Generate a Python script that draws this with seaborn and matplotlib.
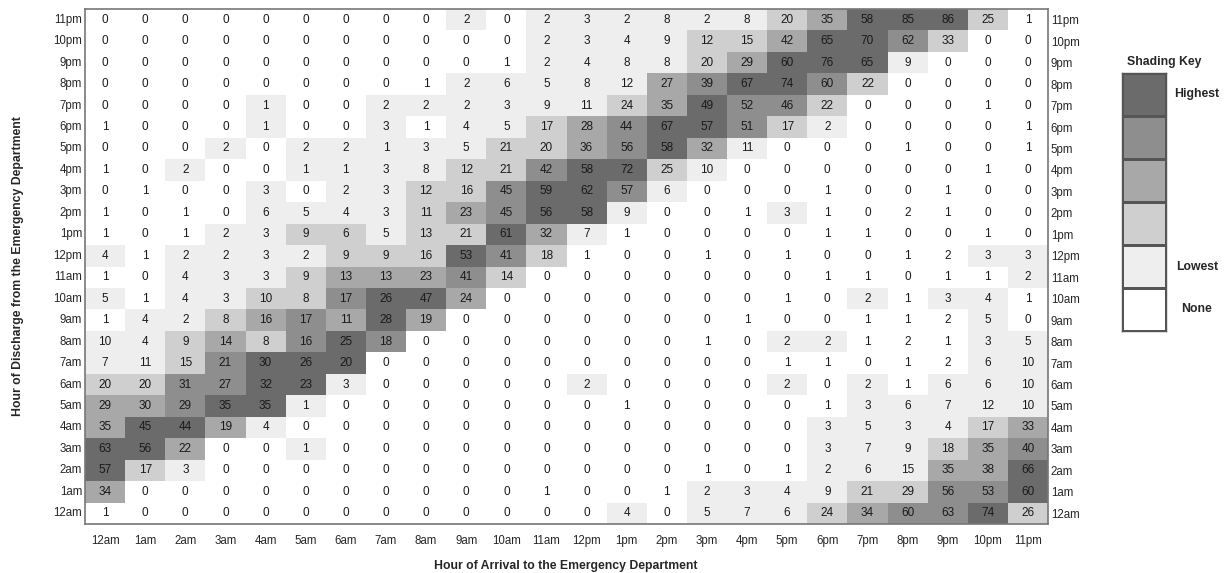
import numpy as np
import pandas as pd
import matplotlib
matplotlib.use('Agg')
import matplotlib.pyplot as plt
from matplotlib.colors import ListedColormap, BoundaryNorm
import seaborn as sns

hour_labels = ['12am', '1am', '2am', '3am', '4am', '5am', '6am', '7am', '8am', '9am', '10am', '11am',
               '12pm', '1pm', '2pm', '3pm', '4pm', '5pm', '6pm', '7pm', '8pm', '9pm', '10pm', '11pm']

# one row per hour of discharge (12am first), one column per hour of arrival
discharge_counts = [
    [1, 0, 0, 0, 0, 0, 0, 0, 0, 0, 0, 0, 0, 4, 0, 5, 7, 6, 24, 34, 60, 63, 74, 26],
    [34, 0, 0, 0, 0, 0, 0, 0, 0, 0, 0, 1, 0, 0, 1, 2, 3, 4, 9, 21, 29, 56, 53, 60],
    [57, 17, 3, 0, 0, 0, 0, 0, 0, 0, 0, 0, 0, 0, 0, 1, 0, 1, 2, 6, 15, 35, 38, 66],
    [63, 56, 22, 0, 0, 1, 0, 0, 0, 0, 0, 0, 0, 0, 0, 0, 0, 0, 3, 7, 9, 18, 35, 40],
    [35, 45, 44, 19, 4, 0, 0, 0, 0, 0, 0, 0, 0, 0, 0, 0, 0, 0, 3, 5, 3, 4, 17, 33],
    [29, 30, 29, 35, 35, 1, 0, 0, 0, 0, 0, 0, 0, 1, 0, 0, 0, 0, 1, 3, 6, 7, 12, 10],
    [20, 20, 31, 27, 32, 23, 3, 0, 0, 0, 0, 0, 2, 0, 0, 0, 0, 2, 0, 2, 1, 6, 6, 10],
    [7, 11, 15, 21, 30, 26, 20, 0, 0, 0, 0, 0, 0, 0, 0, 0, 0, 1, 1, 0, 1, 2, 6, 10],
    [10, 4, 9, 14, 8, 16, 25, 18, 0, 0, 0, 0, 0, 0, 0, 1, 0, 2, 2, 1, 2, 1, 3, 5],
    [1, 4, 2, 8, 16, 17, 11, 28, 19, 0, 0, 0, 0, 0, 0, 0, 1, 0, 0, 1, 1, 2, 5, 0],
    [5, 1, 4, 3, 10, 8, 17, 26, 47, 24, 0, 0, 0, 0, 0, 0, 0, 1, 0, 2, 1, 3, 4, 1],
    [1, 0, 4, 3, 3, 9, 13, 13, 23, 41, 14, 0, 0, 0, 0, 0, 0, 0, 1, 1, 0, 1, 1, 2],
    [4, 1, 2, 2, 3, 2, 9, 9, 16, 53, 41, 18, 1, 0, 0, 1, 0, 1, 0, 0, 1, 2, 3, 3],
    [1, 0, 1, 2, 3, 9, 6, 5, 13, 21, 61, 32, 7, 1, 0, 0, 0, 0, 1, 1, 0, 0, 1, 0],
    [1, 0, 1, 0, 6, 5, 4, 3, 11, 23, 45, 56, 58, 9, 0, 0, 1, 3, 1, 0, 2, 1, 0, 0],
    [0, 1, 0, 0, 3, 0, 2, 3, 12, 16, 45, 59, 62, 57, 6, 0, 0, 0, 1, 0, 0, 1, 0, 0],
    [1, 0, 2, 0, 0, 1, 1, 3, 8, 12, 21, 42, 58, 72, 25, 10, 0, 0, 0, 0, 0, 0, 1, 0],
    [0, 0, 0, 2, 0, 2, 2, 1, 3, 5, 21, 20, 36, 56, 58, 32, 11, 0, 0, 0, 1, 0, 0, 1],
    [1, 0, 0, 0, 1, 0, 0, 3, 1, 4, 5, 17, 28, 44, 67, 57, 51, 17, 2, 0, 0, 0, 0, 1],
    [0, 0, 0, 0, 1, 0, 0, 2, 2, 2, 3, 9, 11, 24, 35, 49, 52, 46, 22, 0, 0, 0, 1, 0],
    [0, 0, 0, 0, 0, 0, 0, 0, 1, 2, 6, 5, 8, 12, 27, 39, 67, 74, 60, 22, 0, 0, 0, 0],
    [0, 0, 0, 0, 0, 0, 0, 0, 0, 0, 1, 2, 4, 8, 8, 20, 29, 60, 76, 65, 9, 0, 0, 0],
    [0, 0, 0, 0, 0, 0, 0, 0, 0, 0, 0, 2, 3, 4, 9, 12, 15, 42, 65, 70, 62, 33, 0, 0],
    [0, 0, 0, 0, 0, 0, 0, 0, 0, 2, 0, 2, 3, 2, 8, 2, 8, 20, 35, 58, 85, 86, 25, 1],
]

key_labels = ['Highest', '', '', '', 'Lowest', 'None']
shade_colors = ['#ffffff', '#eeeeee', '#cfcfcf', '#a8a8a8', '#8e8e8e', '#6b6b6b']
shade_edges = [0, 0.025, 0.2, 0.4, 0.6, 0.8, 1.01]

sns.set_style('white')
plt.rcParams['font.family'] = ['Liberation Sans', 'DejaVu Sans']

counts = pd.DataFrame(discharge_counts, index=hour_labels, columns=hour_labels).iloc[::-1]
# shading is relative to the busiest cell of each arrival hour
shade = counts / counts.max(axis=0)

cmap = ListedColormap(shade_colors)
norm = BoundaryNorm(shade_edges, cmap.N)

fig = plt.figure(figsize=(12.26, 5.73), dpi=100)
ax = fig.add_axes([85 / 1226, 1 - 524 / 573, 963 / 1226, 515 / 573])
sns.heatmap(shade, cmap=cmap, norm=norm, annot=counts, fmt='d', cbar=False, ax=ax,
            annot_kws={'fontsize': 8.5, 'color': '#1a1a1a'})
for s in ax.spines.values():
    s.set_visible(True)
    s.set_color('#777777')
    s.set_linewidth(1.2)
ax.tick_params(length=0, labelsize=8.3, pad=2, labelright=True)
plt.setp(ax.get_yticklabels(), rotation=0)
plt.setp(ax.get_xticklabels(), rotation=0)
ax.tick_params(axis='x', pad=8)
ax.set_xlabel('')
ax.set_ylabel('')

fig.text(566 / 1226, 1 - 566 / 573, 'Hour of Arrival to the Emergency Department',
         ha='center', va='center', fontsize=8.8, fontweight='bold')
fig.text(18 / 1226, 1 - 266 / 573, 'Hour of Discharge from the Emergency Department',
         ha='center', va='center', rotation=90, fontsize=8.8, fontweight='bold')

# shading key
kax = fig.add_axes([1122 / 1226, 1 - 331 / 573, 44 / 1226, 258 / 573])
key_vals = pd.DataFrame({'k': [0.9, 0.7, 0.5, 0.3, 0.1, 0.0]})
sns.heatmap(key_vals, cmap=cmap, norm=norm, cbar=False, ax=kax,
            linewidths=1, linecolor='#555555', xticklabels=False, yticklabels=False)
for s in kax.spines.values():
    s.set_visible(True)
    s.set_color('#555555')
    s.set_linewidth(1)
kax.text(0.95, -0.25, 'Shading Key', ha='center', va='center', fontsize=8.8,
         fontweight='bold', clip_on=False)
for i, lab in enumerate(key_labels):
    if lab:
        kax.text(1.7, i + 0.5, lab, ha='center', va='center', fontsize=8.8,
                 fontweight='bold', clip_on=False)

fig.savefig('out.png', dpi=100)
